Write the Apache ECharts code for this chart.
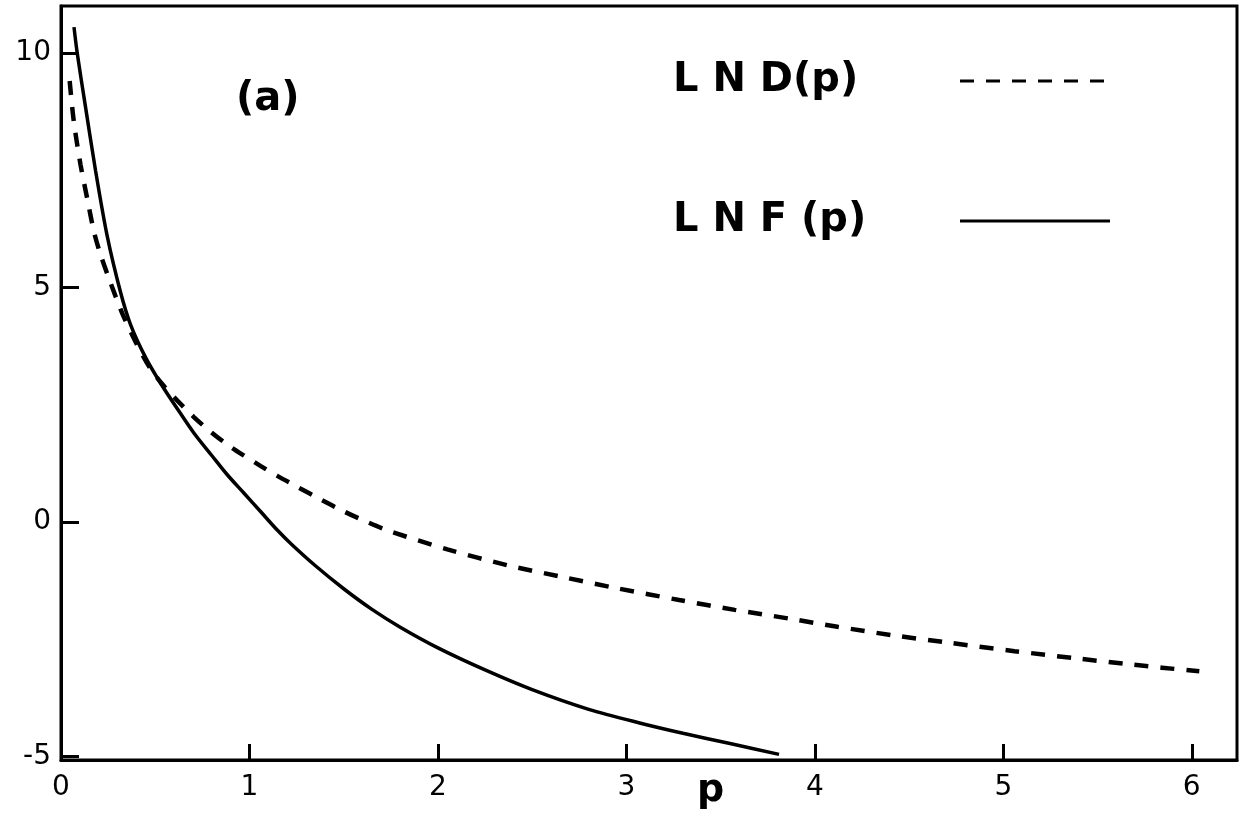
<!DOCTYPE html>
<html>
<head>
<meta charset="utf-8">
<script src="https://cdn.jsdelivr.net/npm/echarts@6/dist/echarts.min.js"></script>
<style>
  html, body { margin: 0; padding: 0; background: #fff; }
  #chart { width: 1243px; height: 823px; }
</style>
</head>
<body>
<div id="chart"></div>
<script>
// tick labels
var xTicks = [0, 1, 2, 3, 4, 5, 6]
var yTicks = [-5, 0, 5, 10]

// LND(p), dashed curve
var lndP = [0.046, 0.068, 0.104, 0.139, 0.175, 0.21, 0.263, 0.325, 0.396, 0.47, 0.546, 0.62, 0.705, 0.79, 0.88, 0.97, 1.058, 1.15, 1.25, 1.37, 1.5, 1.62, 1.75, 2.05, 2.37, 2.65, 2.95, 3.28, 3.575, 3.87, 4.12, 4.41, 4.71, 5.06, 5.4, 5.69, 6.04]
var lndV = [9.4, 8.54, 7.61, 6.9, 6.19, 5.7, 5.1, 4.45, 3.84, 3.3, 2.9, 2.58, 2.24, 1.94, 1.66, 1.42, 1.2, 0.98, 0.76, 0.5, 0.23, 0.01, -0.2, -0.58, -0.92, -1.16, -1.41, -1.66, -1.87, -2.06, -2.23, -2.41, -2.57, -2.75, -2.91, -3.04, -3.18]

// LNF(p), solid curve
var lnfP = [0.069, 0.086, 0.13, 0.183, 0.245, 0.316, 0.37, 0.45, 0.53, 0.62, 0.705, 0.8, 0.88, 0.97, 1.06, 1.15, 1.22, 1.35, 1.5, 1.65, 1.8, 2.0, 2.25, 2.5, 2.8, 3.07, 3.3, 3.55, 3.81]
var lnfV = [10.55, 10.0, 8.85, 7.5, 6.1, 4.9, 4.2, 3.5, 2.95, 2.4, 1.9, 1.42, 1.02, 0.62, 0.22, -0.18, -0.46, -0.93, -1.42, -1.86, -2.24, -2.68, -3.15, -3.57, -3.99, -4.28, -4.5, -4.72, -4.95]

function pairs (xs, ys) {
  var out = []
  for (var i = 0; i < xs.length; i++) out.push([xs[i], ys[i]])
  return out
}

var font = 'DejaVu Sans'
var myChart = echarts.init(document.getElementById('chart'))

myChart.setOption({
  animation: false,
  grid: {
    left: 61,
    right: 6,
    top: 6,
    bottom: 63,
    show: true,
    borderColor: '#000',
    borderWidth: 3
  },
  legend: {
    orient: 'vertical',
    left: 668,
    top: 56,
    align: 'right',
    itemWidth: 150,
    itemHeight: 14,
    itemGap: 100,
    itemStyle: { opacity: 0 },
    lineStyle: { width: 3 },
    formatter: function (name) {
      return '{t|' + name + '}'
    },
    textStyle: {
      rich: {
        t: {
          fontFamily: font,
          fontWeight: 'bold',
          fontSize: 40,
          lineHeight: 48,
          color: '#000',
          width: 282,
          align: 'left'
        }
      }
    },
    data: ['L N D(p)', 'L N F (p)']
  },
  xAxis: {
    type: 'value',
    min: 0,
    max: 6.24,
    splitLine: { show: false },
    axisLine: { onZero: false, lineStyle: { color: '#000', width: 3 } },
    axisTick: {
      inside: true,
      length: 16,
      customValues: xTicks,
      lineStyle: { color: '#000', width: 3 }
    },
    axisLabel: {
      customValues: xTicks,
      margin: 14,
      fontFamily: font,
      fontSize: 28,
      color: '#000'
    }
  },
  yAxis: {
    type: 'value',
    min: -5.07,
    max: 11,
    splitLine: { show: false },
    axisLine: { onZero: false, lineStyle: { color: '#000', width: 3 } },
    axisTick: {
      inside: true,
      length: 18,
      customValues: yTicks,
      lineStyle: { color: '#000', width: 3 }
    },
    axisLabel: {
      customValues: yTicks,
      margin: 10,
      fontFamily: font,
      fontSize: 28,
      color: '#000'
    }
  },
  graphic: [
    {
      type: 'text',
      left: 236,
      top: 80,
      style: { text: '(a)', font: 'bold 40px "DejaVu Sans"', fill: '#000' }
    },
    {
      type: 'text',
      left: 697,
      top: 772,
      style: { text: 'p', font: 'bold 38px "DejaVu Sans"', fill: '#000' }
    }
  ],
  series: [
    {
      name: 'L N D(p)',
      type: 'line',
      symbol: 'none',
      smooth: 0.3,
      lineStyle: { color: '#000', width: 4.5, type: [14, 12] },
      itemStyle: { color: '#000' },
      data: pairs(lndP, lndV)
    },
    {
      name: 'L N F (p)',
      type: 'line',
      symbol: 'none',
      smooth: 0.3,
      lineStyle: { color: '#000', width: 3.5 },
      itemStyle: { color: '#000' },
      data: pairs(lnfP, lnfV)
    }
  ]
})
</script>
</body>
</html>
